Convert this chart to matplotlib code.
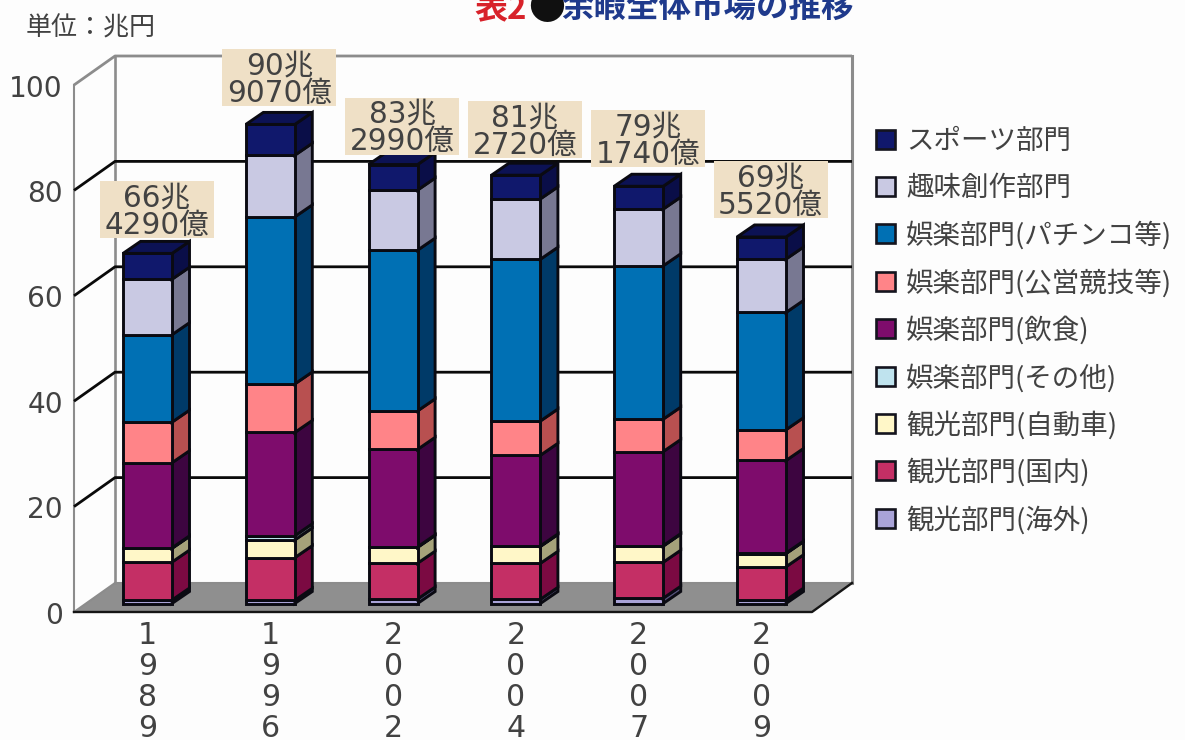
"""Stacked pseudo-3D column chart of the Japanese leisure market, 1989-2009.

Produces: out.png
"""

import matplotlib
matplotlib.use("Agg")

import matplotlib.pyplot as plt
from matplotlib.patches import Polygon, Rectangle
import numpy as np

# ── Data (trillion yen) ────────────────────────────────────────────────────
years = ["1989", "1996", "2002", "2004", "2007", "2009"]
total_labels = ["66兆\n4290億", "90兆\n9070億", "83兆\n2990億",
                "81兆\n2720億", "79兆\n1740億", "69兆\n5520億"]

# bottom of the stack first
overseas_travel = [0.66, 0.60, 0.85, 0.80, 1.00, 0.65]
domestic_travel = [7.20, 8.10, 6.80, 6.83, 6.83, 6.32]
car_travel = [2.60, 3.36, 3.00, 3.20, 3.05, 2.50]
other_entertainment = [0.10, 0.80, 0.10, 0.10, 0.10, 0.10]
food_drink = [16.15, 19.60, 18.50, 17.20, 17.85, 17.57]
public_gambling = [7.70, 9.20, 7.30, 6.50, 6.15, 5.83]
pachinko = [16.60, 31.70, 30.50, 30.70, 29.10, 22.26]
hobby = [10.52, 11.70, 11.40, 11.45, 10.76, 10.13]
sports = [4.899, 5.847, 4.849, 4.492, 4.334, 4.192]

series_names = ["観光部門(海外)", "観光部門(国内)", "観光部門(自動車)",
                "娯楽部門(その他)", "娯楽部門(飲食)", "娯楽部門(公営競技等)",
                "娯楽部門(パチンコ等)", "趣味創作部門", "スポーツ部門"]
y_ticks = [0, 20, 40, 60, 80, 100]

# ── Colours: (front, side, top) ────────────────────────────────────────────
FACES = [("#A9A3D8", "#55527A", "#6E6A9A"),
         ("#C42F65", "#7B0A42", "#8E1A50"),
         ("#FFF7C8", "#A5A27A", "#C8C69A"),
         ("#BFE3EE", "#5F7077", "#8AA0A8"),
         ("#7E0C6C", "#3D0540", "#50084E"),
         ("#FF8488", "#B85050", "#C86060"),
         ("#0070B4", "#003A68", "#004C80"),
         ("#C9C9E3", "#787892", "#9090A8"),
         ("#10186C", "#0A0E48", "#0C1254")]
INK = "#424242"
TAN = "#EFE0C6"
WALL_GREY = "#8C8C8C"
FLOOR = "#8F8F8F"
PAPER = "#FDFDFD"
DIGITS = ["DejaVu Sans", "Noto Sans CJK JP"]
KANJI = ["Noto Sans CJK JP", "DejaVu Sans"]

# ── Scales ─────────────────────────────────────────────────────────────────
WIDTH, HEIGHT = 1185, 740
X0, DX = 147.5, 122.8       # first column centre, column pitch
Y0, DY = 603.5, 5.27        # column base, pixels per trillion yen


def to_x(px):
    return (px - X0) / DX


def to_y(py):
    return (Y0 - py) / DY


def pts(px):
    return px * 0.72


HALF_W = 24.5 / DX
DEPTH_X = 17.5 / DX
DEPTH_Y = 12 / DY

fig = plt.figure(figsize=(WIDTH / 100, HEIGHT / 100), dpi=100, facecolor=PAPER)
ax = fig.add_axes([0, 0, 1, 1])
ax.set_xlim(to_x(0), to_x(WIDTH))
ax.set_ylim(to_y(HEIGHT), to_y(0))
ax.axis("off")

# ── Walls and floor ────────────────────────────────────────────────────────
front_l, back_l = to_x(74), to_x(115)
front_r, back_r = to_x(812), to_x(852)
front_base, back_base = to_y(612), to_y(583)
tick_nudge = 3.5 / DY

ax.add_patch(Polygon([(front_l, front_base), (front_r, front_base),
                      (back_r, back_base), (back_l, back_base)],
                     fc=FLOOR, ec="none", zorder=1))
for tick in y_ticks[1:]:
    colour = WALL_GREY if tick == 100 else "#0A0A0A"
    ax.plot([front_l, back_l, back_r],
            [front_base + tick, back_base + tick, back_base + tick],
            color=colour, lw=2.0, zorder=1.5, solid_capstyle="butt")
for tick in y_ticks:
    ax.text(to_x(63), front_base + tick - tick_nudge, str(tick), ha="right", va="center",
            fontsize=pts(28), family=DIGITS, color=INK)

ax.plot([front_l, front_l], [front_base, front_base + 100], color=WALL_GREY, lw=1.5, zorder=1.2)
ax.plot([back_l, back_l], [back_base, back_base + 100], color=WALL_GREY, lw=1.9, zorder=1.2)
ax.plot([back_r, back_r], [back_base, back_base + 100], color=WALL_GREY, lw=2.2, zorder=1.2)
ax.plot([back_l, back_r], [back_base, back_base], color=WALL_GREY, lw=1.5, zorder=1.2)
ax.plot([front_l, back_l], [front_base, back_base], color=WALL_GREY, lw=1.5, zorder=1.2)
ax.plot([front_l, front_r, back_r], [front_base, front_base, back_base],
        color="#151515", lw=1.7, zorder=1.6)

# ── Columns ────────────────────────────────────────────────────────────────
stack = np.array([overseas_travel, domestic_travel, car_travel,
                  other_entertainment, food_drink, public_gambling,
                  pachinko, hobby, sports])
tops = stack.cumsum(axis=0)
bottoms = tops - stack
EDGE = dict(ec="#0A0A12", lw=2.1, joinstyle="miter")

for col in range(len(years)):
    left, right = col - HALF_W, col + HALF_W
    for row, (front, side, top_c) in enumerate(FACES):
        low, high = bottoms[row, col], tops[row, col]
        z = 2 + row * 0.1
        ax.add_patch(Polygon([(right, low), (right + DEPTH_X, low + DEPTH_Y),
                              (right + DEPTH_X, high + DEPTH_Y), (right, high)],
                             fc=side, zorder=z, **EDGE))
        ax.add_patch(Rectangle((left, low), 2 * HALF_W, high - low,
                               fc=front, zorder=z, **EDGE))
    high = tops[-1, col]
    ax.add_patch(Polygon([(left, high), (right, high),
                          (right + DEPTH_X, high + DEPTH_Y),
                          (left + DEPTH_X, high + DEPTH_Y)],
                         fc=FACES[-1][2], zorder=3.1, **EDGE))

    ax.text(col, to_y(682), "\n".join(years[col]), ha="center", va="center",
            fontsize=pts(30), family=DIGITS, color=INK, linespacing=1.09)

# ── Total labels ───────────────────────────────────────────────────────────
BOX_W, BOX_H = 114 / DX, 57 / DY
BOX_SHIFT = 9 / DX
label_lift = [15, 18, 10, 17, 19, 18.5]     # pixels above the column front

for col, text in enumerate(total_labels):
    cx = col + BOX_SHIFT
    bottom = tops[-1, col] + label_lift[col] / DY
    ax.add_patch(Rectangle((cx - BOX_W / 2, bottom), BOX_W, BOX_H,
                           fc=TAN, ec="none", zorder=4))
    ax.text(cx, bottom + BOX_H / 2 - 2 / DY, text, ha="center", va="center", zorder=5,
            fontsize=pts(29.5), family=DIGITS, color=INK, linespacing=0.92)

# ── Legend ─────────────────────────────────────────────────────────────────
legend_top, legend_step = 139, 47.4
for i, (name, colours) in enumerate(zip(series_names[::-1], FACES[::-1])):
    py = legend_top + i * legend_step
    ax.add_patch(Rectangle((to_x(876), to_y(py + 9.5)), 19 / DX, 19 / DY,
                           fc=colours[0], ec="#14141E", lw=1.9, zorder=4))
    ax.text(to_x(906), to_y(py + 2), name, ha="left", va="center",
            fontsize=pts(27.5), family=KANJI, color=INK)

# ── Unit and title ─────────────────────────────────────────────────────────
ax.text(to_x(26), to_y(28), "単位：兆円", ha="left", va="center",
        fontsize=pts(26), family=KANJI, color=INK)
ax.text(to_x(474), to_y(8.5), "表2", ha="left", va="center",
        fontsize=pts(33), family=KANJI, fontweight="bold", color="#D8222A")
ax.text(to_x(546.5), to_y(8), "●", ha="center", va="center",
        fontsize=pts(37), family=KANJI, color="#101010")
ax.text(to_x(561), to_y(8.5), "余暇全体市場の推移", ha="left", va="center",
        fontsize=pts(32.5), family=KANJI, fontweight="bold", color="#1F3A8C")

fig.savefig("out.png", dpi=100, facecolor=PAPER)
plt.close(fig)
